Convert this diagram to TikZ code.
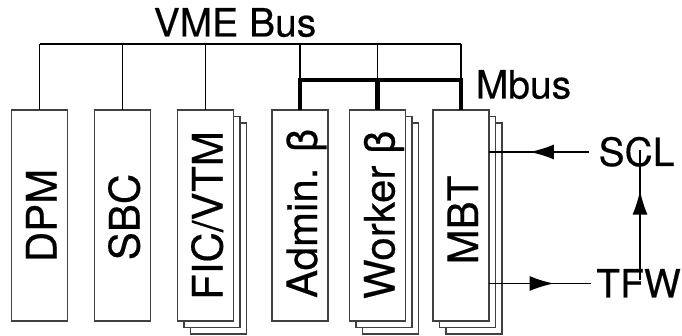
\documentclass[tikz,border=0pt]{standalone}
\usepackage{fontspec}
\setmainfont[FakeBold=0.4]{TeX Gyre Heros}
\usetikzlibrary{arrows.meta}
\tikzset{
  card/.style={draw=black!75, line width=1.5pt, fill=white, minimum width=56pt, minimum height=211pt, inner sep=0pt, outer sep=0pt},
  boxlabel/.style={rotate=90, inner sep=0pt, font=\fontsize{42}{50}\selectfont, text height=30pt, text depth=0pt},
  outlabel/.style={inner sep=0pt, font=\fontsize{39}{48}\selectfont, text height=28pt, text depth=0pt},
  vbus/.style={line width=1.5pt, black},
  mbusline/.style={line width=4.5pt, black, line join=miter},
  sig/.style={line width=1.5pt, black},
  headtip/.style={line width=1.5pt, -{Latex[length=24pt,width=15pt]}},
}
\begin{document}
\begin{tikzpicture}[x=1pt,y=-1pt]
\useasboundingbox (0,0) rectangle (682,336);
% boxes (back copies first)
\node[card] (fic3) at (218.5,228.5) {};
\node[card] (fic2) at (212,222) {};
\node[card] (fic)  at (205.5,215.5) {};
\node[card] (wrk3) at (390.5,228.5) {};
\node[card] (wrk2) at (384,222) {};
\node[card] (wrk)  at (377.5,215.5) {};
\node[card] (mbt3) at (474,228.5) {};
\node[card] (mbt2) at (467.5,222) {};
\node[card] (mbt)  at (461,215.5) {};
\node[card] (dpm)  at (39.5,215.5) {};
\node[card] (sbc)  at (122.5,215.5) {};
\node[card] (adm)  at (300,215.5) {};
% box labels
\node[boxlabel] (dpmT) at (41.5,215.5) {DPM};
\node[boxlabel] (sbcT) at (124.5,217) {SBC};
\node[boxlabel] (ficT) at (207.5,215.5) {FIC/VTM};
\node[boxlabel] (admT) at (302,213.5) {Admin. β};
\node[boxlabel] (wrkT) at (379.5,215) {Worker β};
\node[boxlabel] (mbtT) at (463,220) {MBT};
% bus labels
\node[outlabel] (vme) at (235,22.5) {VME Bus};
\node[outlabel] (mbus) at (523.5,84.5) {Mbus};
\node[outlabel] (scl) at (636.5,152) {SCL};
\node[outlabel] (tfw) at (638.5,283.5) {TFW};
% VME bus
\coordinate (vmeL) at (39.5,44);
\coordinate (vmeR) at (461,44);
\coordinate (mbL) at (300,80);
\draw[vbus] (vmeL) -- (vmeR);
\foreach \b in {dpm,sbc,fic}{\draw[vbus] (\b.north |- vmeL) -- (\b.north);}
\foreach \b in {adm,wrk,mbt}{\draw[vbus] (\b.north |- vmeL) -- (\b.north |- mbL);}
% Mbus
\draw[mbusline] (adm.north) -- (adm.north |- mbL) -- (mbt.north |- mbL) -- (mbt.north);
\draw[mbusline] (wrk.north |- mbL) -- (wrk.north);
% signals
\coordinate (sclIn) at ([xshift=-9pt]scl.west);
\coordinate (tfwOut) at ([xshift=-5pt]tfw.west);
\coordinate (tfwUp) at ([yshift=-11pt]tfw.north -| 640,0);
\coordinate (sclDn) at ([yshift=16pt]scl.south -| 640,0);
\draw[sig] (sclIn) -- (mbt.east |- sclIn)
  coordinate[pos=0.356] (sclB) coordinate[pos=0.594] (sclH);
\draw[headtip] (sclB) -- (sclH);
\draw[sig] (mbt.east |- tfwOut) -- (tfwOut)
  coordinate[pos=0.406] (tfwB) coordinate[pos=0.634] (tfwH);
\draw[headtip] (tfwB) -- (tfwH);
\draw[sig] (tfwUp) -- (sclDn)
  coordinate[pos=0.39] (vB) coordinate[pos=0.69] (vH);
\draw[headtip] (vB) -- (vH);
\end{tikzpicture}
\end{document}
